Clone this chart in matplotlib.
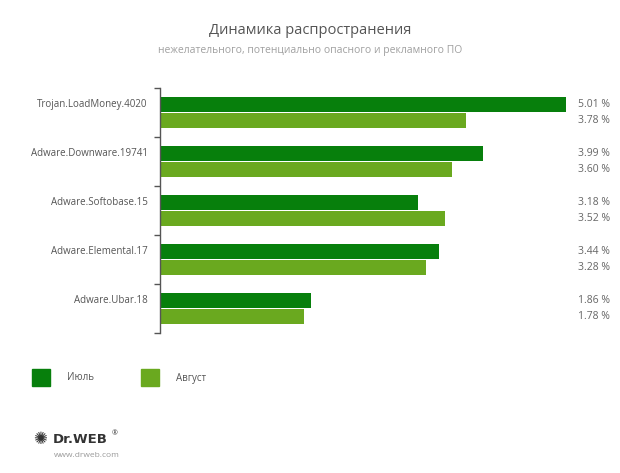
import matplotlib
matplotlib.use("Agg")
import matplotlib.pyplot as plt
from matplotlib.patches import Rectangle
import numpy as np

plt.rcParams['font.family'] = ['Open Sans', 'DejaVu Sans']

categories = ["Trojan.LoadMoney.4020", "Adware.Downware.19741", "Adware.Softobase.15",
              "Adware.Elemental.17", "Adware.Ubar.18"]
july = [5.01, 3.99, 3.18, 3.44, 1.86]
august = [3.78, 3.60, 3.52, 3.28, 1.78]
series_names = ["Июль", "Август"]
title = "Динамика распространения"
subtitle = "нежелательного, потенциально опасного и рекламного ПО"

dark = "#077f0c"
light = "#6aa91f"
label_col = "#555555"

W, H = 620, 473
fig = plt.figure(figsize=(W/100, H/100), dpi=100)
fig.patch.set_facecolor("white")

ax_left, ax_right, ax_top, ax_bot = 160, 605.5, 88, 333
ax = fig.add_axes([ax_left/W, 1-ax_bot/H, (ax_right-ax_left)/W, (ax_bot-ax_top)/H])
n = len(categories)
y = np.arange(n)
h = 0.29
ax.barh(y - 0.165, july, height=h, color=dark)
ax.barh(y + 0.165, august, height=h, color=light)
ax.set_ylim(n - 0.5, -0.5)
ax.set_xlim(0, 5.5)
for s in ["top", "right", "bottom"]:
    ax.spines[s].set_visible(False)
ax.spines["left"].set_color("#555555")
ax.spines["left"].set_linewidth(1.0)
ax.set_xticks([])
ax.set_yticks(np.arange(n + 1) - 0.5)
ax.set_yticklabels([])
ax.tick_params(axis="y", length=4, width=1, color="#555555", direction="out")

for i, cat in enumerate(categories):
    ax.text(-0.15, i - 0.165, cat, ha="right", va="center", fontsize=7,
            color=label_col)
    ax.text(5.16, i - 0.165, f"{july[i]:.2f} %", ha="left", va="center",
            fontsize=7.5, color="#666666")
    ax.text(5.16, i + 0.165, f"{august[i]:.2f} %", ha="left", va="center",
            fontsize=7.5, color="#666666")

fig.text(310/W, 1-31/H, title, ha="center", va="center", fontsize=10.5, color="#555555")
fig.text(310/W, 1-51/H, subtitle, ha="center", va="center", fontsize=7.5, color="#a0a0a0")

# legend
fig.patches.append(Rectangle((32/W, 1-386/H), 18/W, 17/H, transform=fig.transFigure,
                             color=dark, figure=fig))
fig.text(67/W, 1-378/H, series_names[0], ha="left", va="center", fontsize=7, color=label_col)
fig.patches.append(Rectangle((141/W, 1-386/H), 18/W, 17/H, transform=fig.transFigure,
                             color=light, figure=fig))
fig.text(176/W, 1-378/H, series_names[1], ha="left", va="center", fontsize=7, color=label_col)

# logo
fig.text(40/W, 1-439/H, "✺", ha="center", va="center", fontsize=12, color="#333333",
         family="DejaVu Sans")
fig.text(53/W, 1-439/H, "Dr.WEB", ha="left", va="center", fontsize=9.5, color="#333333",
         fontweight="bold", family="DejaVu Sans")
fig.text(112/W, 1-434/H, "®", ha="left", va="center", fontsize=5, color="#333333")
fig.text(54/W, 1-455/H, "www.drweb.com", ha="left", va="center", fontsize=6, color="#999999")

fig.savefig("out.png", dpi=100, facecolor="white")
